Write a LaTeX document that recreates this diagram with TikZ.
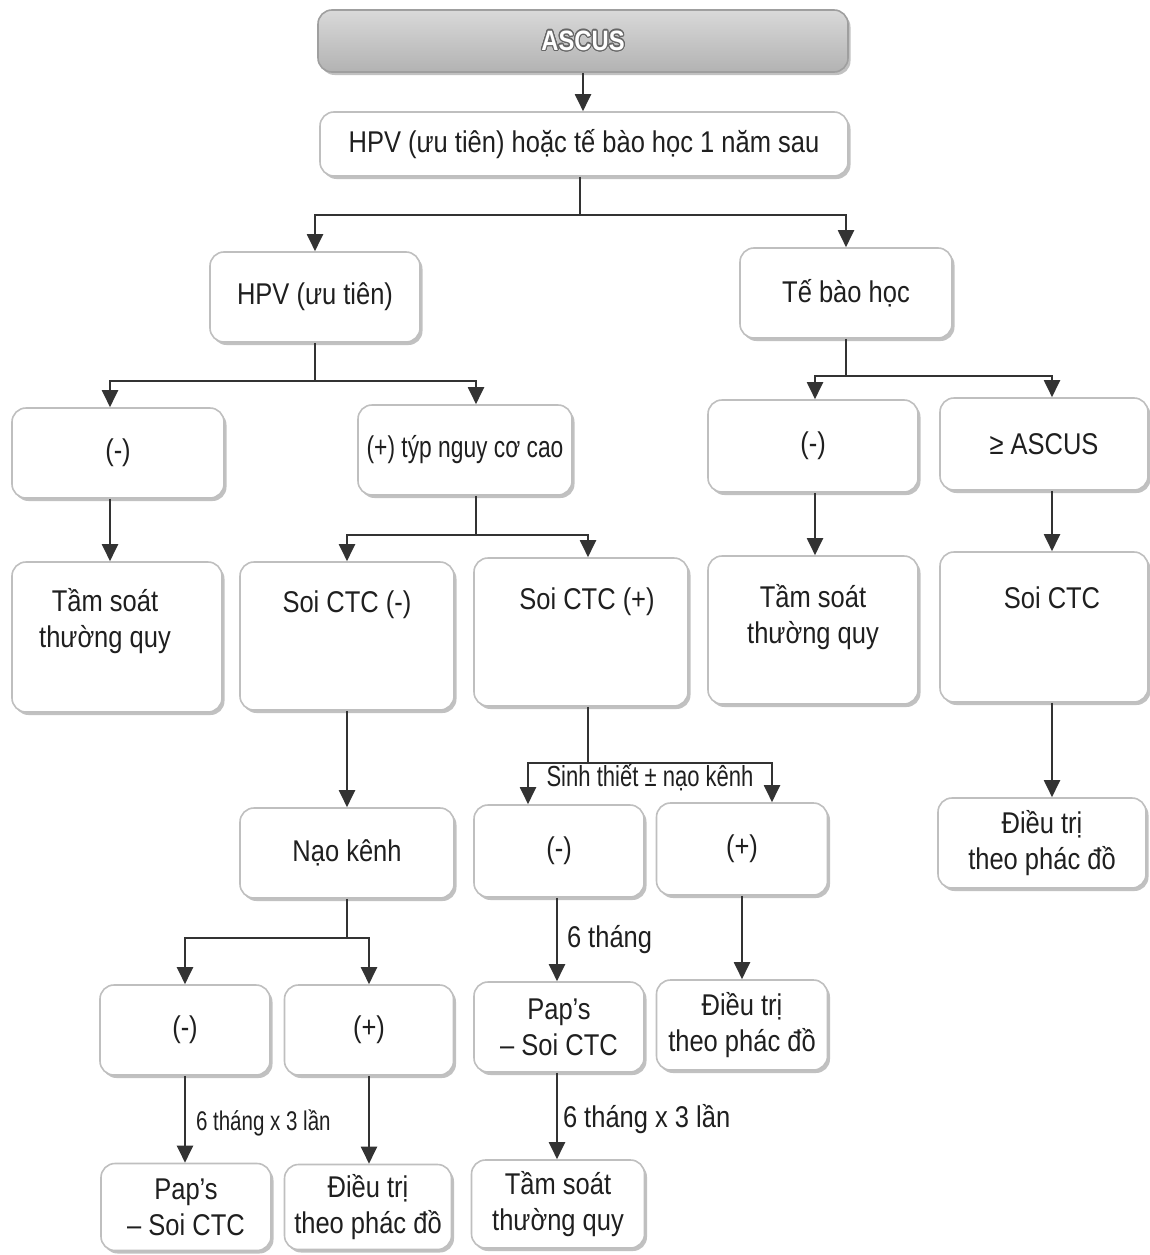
\documentclass[tikz,border=0pt]{standalone}
\usepackage{fontspec}
\usepackage[copies]{contour}
\setmainfont[FakeStretch=0.85]{Liberation Sans}
\newfontfamily\narrowfont[FakeStretch=0.76]{Liberation Sans}
\usetikzlibrary{arrows.meta,shadows,calc}
\contourlength{1.1pt}
\contournumber{24}
\begin{document}
\begin{tikzpicture}[x=1pt,y=-1pt,
  font=\fontsize{30}{36}\selectfont, text=black!88,
  box/.style={draw=gray!50, line width=1.6pt, rounded corners=14pt, fill=white,
    drop shadow={shadow xshift=2.5pt, shadow yshift=-3pt, fill=gray!65, opacity=0.75},
    inner sep=0pt, align=center},
  txt/.style={inner sep=0pt, align=center},
  line/.style={draw=black!80, line width=2pt},
  arr/.style={line, -{Triangle[width=16pt,length=17pt]}},
  lab/.style={inner sep=0pt, anchor=west}]
\useasboundingbox (0,0) rectangle (1150,1255);
% top
\node[box, minimum width=530pt, minimum height=62pt, top color=gray!30, bottom color=gray!60, draw=gray!75] (ascus) at (583,41) {\fontsize{28}{34}\selectfont\bfseries\color{white}\contour{black!60}{ASCUS}};
\node[box, minimum width=528pt, minimum height=64pt] (q) at (584,144) {HPV (ưu tiên) hoặc tế bào học 1 năm sau};
% level 2
\node[box, minimum width=210pt, minimum height=90pt] (hpv) at (315,297) {HPV (ưu tiên)};
\node[box, minimum width=212pt, minimum height=90pt] (tbh) at (846,293) {Tế bào học};
% level 3
\node[box, minimum width=212pt, minimum height=90pt] (neg1) at (118,453) {(-)};
\node[box, minimum width=214pt, minimum height=90pt] (pos1) at (465,450) {\narrowfont (+) týp nguy cơ cao};
\node[box, minimum width=210pt, minimum height=92pt] (neg2) at (813,446) {(-)};
\node[box, minimum width=208pt, minimum height=92pt] (geA) at (1044,444) {≥ ASCUS};
% level 4 (tall boxes)
\node[box, minimum width=210pt, minimum height=150pt] (ts1) at (117,637) {};
\node[txt] (ts1t) at (105,621) {Tầm soát\\thường quy};
\node[box, minimum width=214pt, minimum height=148pt] (sn) at (347,636) {};
\node[txt] (snt) at (347,605) {Soi CTC (-)};
\node[box, minimum width=214pt, minimum height=148pt] (sp) at (581,632) {};
\node[txt] (spt) at (587,602) {Soi CTC (+)};
\node[box, minimum width=210pt, minimum height=148pt] (ts2) at (813,630) {};
\node[txt] (ts2t) at (813,617) {Tầm soát\\thường quy};
\node[box, minimum width=208pt, minimum height=150pt] (sr) at (1044,627) {};
\node[txt] (srt) at (1052,598) {Soi CTC};
% level 5
\node[box, minimum width=214pt, minimum height=90pt] (nk) at (347,853) {Nạo kênh};
\node[box, minimum width=170pt, minimum height=92pt] (m1) at (559,851) {(-)};
\node[box, minimum width=171pt, minimum height=92pt] (m2) at (742,849) {(+)};
\node[box, minimum width=208pt, minimum height=90pt] (dr) at (1042,843) {Điều trị\\theo phác đồ};
% level 6
\node[box, minimum width=170pt, minimum height=90pt] (b1) at (185,1030) {(-)};
\node[box, minimum width=169pt, minimum height=90pt] (b2) at (369,1030) {(+)};
\node[box, minimum width=170pt, minimum height=90pt] (m3) at (559,1027) {Pap’s\\– Soi CTC};
\node[box, minimum width=171pt, minimum height=90pt] (m4) at (742,1025) {Điều trị\\theo phác đồ};
% level 7
\node[box, minimum width=170pt, minimum height=87pt] (c1) at (186,1207) {Pap’s\\– Soi CTC};
\node[box, minimum width=167pt, minimum height=85pt] (c2) at (368,1207) {Điều trị\\theo phác đồ};
\node[box, minimum width=173pt, minimum height=88pt] (c3) at (558,1204) {Tầm soát\\thường quy};
% connectors
\draw[arr] (ascus.south) -- (ascus.south |- q.north);
\coordinate (j1) at ($(q.south)+(-4,38)$);
\draw[line] ($(q.south)+(-4,0)$) -- (j1);
\draw[arr] (j1) -| (hpv.north);
\draw[arr] (j1) -| (tbh.north);
\coordinate (j2) at ($(hpv.south)+(0,38)$);
\draw[line] (hpv.south) -- (j2);
\draw[arr] (j2) -| ($(neg1.north)+(-8,0)$);
\draw[arr] (j2) -| ($(pos1.north)+(11,0)$);
\coordinate (j3) at ($(tbh.south)+(0,37)$);
\draw[line] (tbh.south) -- (j3);
\draw[arr] (j3) -| ($(neg2.north)+(2,0)$);
\draw[arr] (j3) -| ($(geA.north)+(8,0)$);
\draw[arr] ($(neg1.south)+(-8,0)$) -- ($(ts1.north)+(-7,0)$);
\coordinate (j4) at ($(pos1.south)+(11,39)$);
\draw[line] ($(pos1.south)+(11,0)$) -- (j4);
\draw[arr] (j4) -| (sn.north);
\draw[arr] (j4) -| ($(sp.north)+(7,0)$);
\draw[arr] ($(neg2.south)+(2,0)$) -- ($(ts2.north)+(2,0)$);
\draw[arr] ($(geA.south)+(8,0)$) -- ($(sr.north)+(8,0)$);
\draw[arr] ($(sr.south)+(8,0)$) -- ($(dr.north)+(10,0)$);
\draw[arr] (sn.south) -- (nk.north);
\coordinate (j5) at ($(sp.south)+(7,56)$);
\draw[line] ($(sp.south)+(7,0)$) -- (j5);
\draw[arr] (j5) -| ($(m1.north)+(-31,0)$);
\draw[arr] (j5) -| ($(m2.north)+(30,0)$);
\node[inner sep=0pt, font=\narrowfont\fontsize{29}{34}\selectfont] (sinh) at (650,778) {Sinh thiết ± nạo kênh};
\coordinate (j6) at ($(nk.south)+(0,39)$);
\draw[line] (nk.south) -- (j6);
\draw[arr] (j6) -| (b1.north);
\draw[arr] (j6) -| (b2.north);
\draw[arr] ($(m1.south)+(-2,0)$) -- node[lab, xshift=9pt] (l1) {6 tháng} ($(m3.north)+(-2,0)$);
\draw[arr] (m2.south) -- (m4.north);
\draw[arr] ($(m3.south)+(-2,0)$) -- node[lab, xshift=5pt, yshift=-3pt] (l2) {6 tháng x 3 lần} ($(c3.north)+(-1,0)$);
\draw[arr] (b1.south) -- node[lab, xshift=10pt, yshift=-4pt, font=\narrowfont\fontsize{27}{32}\selectfont] (l3) {6 tháng x 3 lần} ($(c1.north)+(-1,0)$);
\draw[arr] (b2.south) -- ($(c2.north)+(1,0)$);
\end{tikzpicture}
\end{document}
